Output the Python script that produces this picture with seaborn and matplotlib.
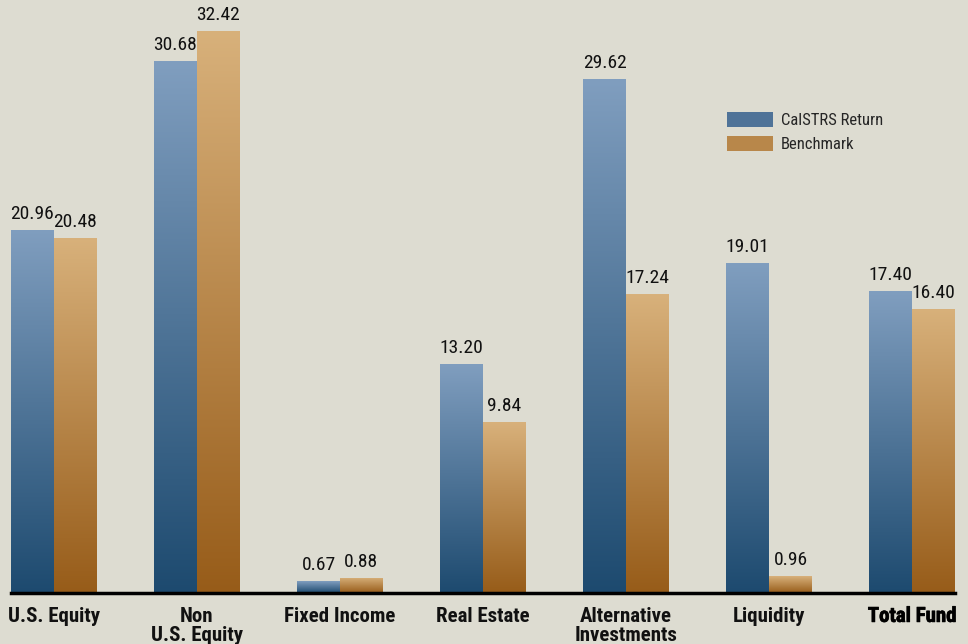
import numpy as np
import pandas as pd
import matplotlib
matplotlib.use("Agg")
import matplotlib.pyplot as plt
import matplotlib.patheffects as pe
import seaborn as sns
from matplotlib.colors import LinearSegmentedColormap
from matplotlib.patches import Patch
from matplotlib import font_manager as fm

categories = ["U.S. Equity", "Non\nU.S. Equity", "Fixed Income", "Real Estate",
              "Alternative\nInvestments", "Liquidity", "Total Fund"]
calstrs = [20.96, 30.68, 0.67, 13.20, 29.62, 19.01, 17.40]
benchmark = [20.48, 32.42, 0.88, 9.84, 17.24, 0.96, 16.40]
series = ["CalSTRS Return", "Benchmark"]

df = pd.DataFrame({
    "category": categories * 2,
    "value": calstrs + benchmark,
    "series": [series[0]] * len(categories) + [series[1]] * len(categories),
})

sns.set_theme(style="white")
available = {f.name for f in fm.fontManager.ttflist}
prefs = ["Roboto Condensed", "Liberation Sans Narrow", "Open Sans Condensed",
         "Noto Sans Condensed", "Liberation Sans"]
fams = [p for p in prefs if p in available] + ["DejaVu Sans"]
plt.rcParams["font.family"] = fams

bg = "#dddcd1"
grad = {
    series[0]: ("#809ebf", "#1d4a6f"),
    series[1]: ("#d8b17b", "#975c19"),
}
mid = {series[0]: "#4f7398", series[1]: "#b8874a"}

fig = plt.figure(figsize=(9.68, 6.44), dpi=100, facecolor=bg)
ax = fig.add_axes([11 / 968, 51 / 644, 944 / 968, 593 / 644])
ax.set_facecolor(bg)

sns.barplot(data=df, x="category", y="value", hue="series", hue_order=series,
            palette=mid, width=0.6, dodge=True, ax=ax, legend=False,
            saturation=1, linewidth=0)

for container, s in zip(ax.containers, series):
    cmap = LinearSegmentedColormap.from_list(s, [grad[s][1], grad[s][0]])
    for bar in container:
        x, y = bar.get_x(), bar.get_y()
        w, h = bar.get_width(), bar.get_height()
        g = np.linspace(0, 1, 256).reshape(-1, 1)
        im = ax.imshow(g, extent=[x, x + w, y, y + h], origin="lower",
                       cmap=cmap, aspect="auto", zorder=bar.get_zorder() + 0.1)
        im.set_clip_path(bar)
    ax.bar_label(container, fmt="%.2f", padding=5, fontsize=14, color="#111111")

ax.set_xlim(-0.3, 6.3)
ax.set_ylim(0, 34.2)

for sp in ["top", "right", "left"]:
    ax.spines[sp].set_visible(False)
ax.spines["bottom"].set_color("black")
ax.spines["bottom"].set_linewidth(2.5)
ax.spines["bottom"].set_zorder(10)
ax.set_yticks([])
ax.set_xlabel("")
ax.set_ylabel("")
ax.tick_params(axis="x", length=0, pad=10)
ax.set_xticks(range(len(categories)))
ax.set_xticklabels(categories, fontsize=15, color="#111111", linespacing=1.0,
                   va="top", fontweight="bold")
for lbl in ax.get_xticklabels():
    if lbl.get_text() == "Total Fund":
        lbl.set_color("black")
        lbl.set_path_effects([pe.withStroke(linewidth=0.5, foreground="black")])

handles = [Patch(facecolor=mid[s], edgecolor="none") for s in series]
ax.legend(handles, series, loc="upper left", bbox_to_anchor=(709 / 944, 1 - 105 / 593),
          frameon=False, fontsize=12, handlelength=2.75, handleheight=1.0,
          handletextpad=0.5, labelspacing=0.5, borderaxespad=0)

fig.savefig("out.png", dpi=100, facecolor=bg)
